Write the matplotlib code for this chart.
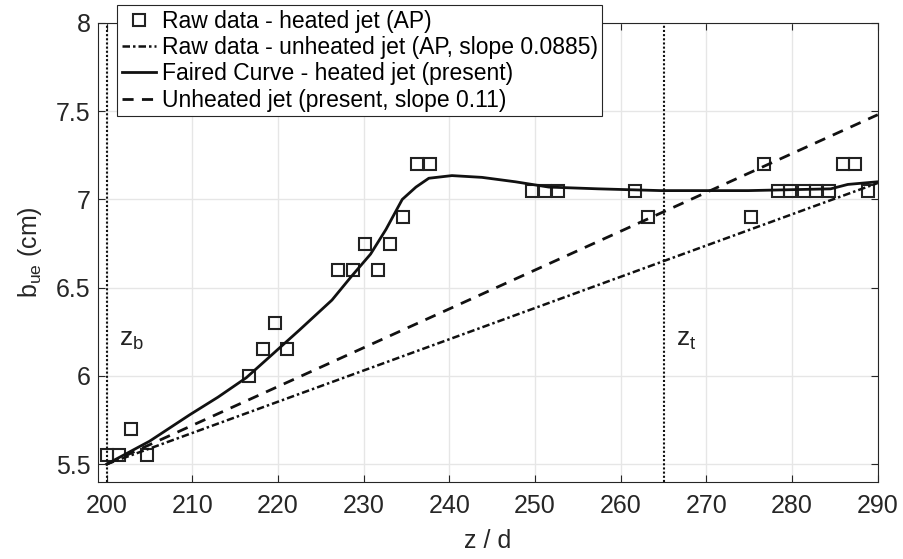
import matplotlib
matplotlib.use('Agg')
import matplotlib.pyplot as plt
from matplotlib import rcParams
rcParams['font.family'] = ['Liberation Sans', 'DejaVu Sans']

# raw data - heated jet (AP)
z_raw = [200.0, 201.5, 202.9, 204.7, 216.6, 218.2, 219.6, 221.1, 227.0, 228.8,
         230.2, 231.7, 233.1, 234.6, 236.2, 237.7, 249.7, 251.2, 252.7, 261.7,
         263.2, 275.2, 276.7, 278.3, 279.8, 281.4, 282.8, 284.3, 285.9, 287.3, 288.9]
b_raw = [5.55, 5.55, 5.70, 5.55, 6.00, 6.15, 6.30, 6.15, 6.60, 6.60,
         6.75, 6.60, 6.75, 6.90, 7.20, 7.20, 7.05, 7.05, 7.05, 7.05,
         6.90, 6.90, 7.20, 7.05, 7.05, 7.05, 7.05, 7.05, 7.20, 7.20, 7.05]

# faired curve - heated jet (present)
z_fair = [200.0, 205.0, 209.7, 213.0, 216.3, 218.6, 222.5, 226.3, 228.5, 230.8,
          232.6, 234.5, 236.1, 237.6, 240.3, 243.8, 247.7, 251.6, 257.4, 264.7,
          274.9, 284.5, 286.5, 290.0]
b_fair = [5.50, 5.63, 5.78, 5.88, 5.99, 6.09, 6.26, 6.43, 6.56, 6.69,
          6.83, 7.00, 7.07, 7.12, 7.135, 7.125, 7.10, 7.07, 7.06, 7.05,
          7.05, 7.06, 7.085, 7.10]

# straight-line fits (end points)
z_line = [200.0, 290.0]
b_ap = [5.50, 7.093]       # AP, slope 0.0885
b_present = [5.50, 7.48]   # present, slope 0.11

z_b = 200.0
z_t = 265.0

fig = plt.figure(figsize=(9.04, 5.59), dpi=100)
ax = fig.add_axes([0.108, 0.138, 0.863, 0.821])

ax.plot(z_raw, b_raw, 's', markersize=8, markerfacecolor='none',
        markeredgecolor='#222222', markeredgewidth=1.5, label='Raw data - heated jet (AP)')
ax.plot(z_line, b_ap, color='#111111', lw=1.8, linestyle=(0, (3, 1.2, 1, 1.2)),
        label='Raw data - unheated jet (AP, slope 0.0885)')
ax.plot(z_fair, b_fair, color='#111111', lw=2, label='Faired Curve - heated jet (present)')
ax.plot(z_line, b_present, color='#111111', lw=2, linestyle=(0, (4, 3)),
        label='Unheated jet (present, slope 0.11)')

ax.axvline(z_b, color='#111111', lw=1.5, linestyle=(0, (1, 1)))
ax.axvline(z_t, color='#111111', lw=1.5, linestyle=(0, (1, 1)))
ax.text(201.5, 6.17, r'z$_\mathregular{b}$', fontsize=19, color='#222222')
ax.text(266.5, 6.17, r'z$_\mathregular{t}$', fontsize=19, color='#222222')

ax.set_xlim(198.95, 290)
ax.set_ylim(5.4, 8)
ax.set_xticks(range(200, 291, 10))
ax.set_yticks([5.5, 6, 6.5, 7, 7.5, 8])
ax.set_yticklabels(['5.5', '6', '6.5', '7', '7.5', '8'])
ax.grid(True, color='#e6e6e6', lw=1)
ax.set_axisbelow(True)
ax.tick_params(labelsize=18, colors='#262626', direction='in', length=5, width=0.8,
               top=True, right=True)
ax.tick_params(axis='x', pad=9)
ax.tick_params(axis='y', pad=5)
for s in ax.spines.values():
    s.set_color('#262626')
    s.set_linewidth(0.8)

ax.set_xlabel('z / d', fontsize=18, color='#262626', labelpad=8)
ax.set_ylabel(r'b$_\mathregular{ue}$ (cm)', fontsize=18, color='#262626', labelpad=9)

leg = ax.legend(loc='upper left', bbox_to_anchor=(117 / 904, 1 - 5 / 559),
                bbox_transform=fig.transFigure, fontsize=16.5, frameon=True,
                fancybox=False, framealpha=1, edgecolor='#262626',
                borderpad=0.2, labelspacing=0.15, handlelength=1.5,
                handletextpad=0.25, borderaxespad=0)
leg.get_frame().set_linewidth(0.8)

fig.savefig('out.png', dpi=100)
